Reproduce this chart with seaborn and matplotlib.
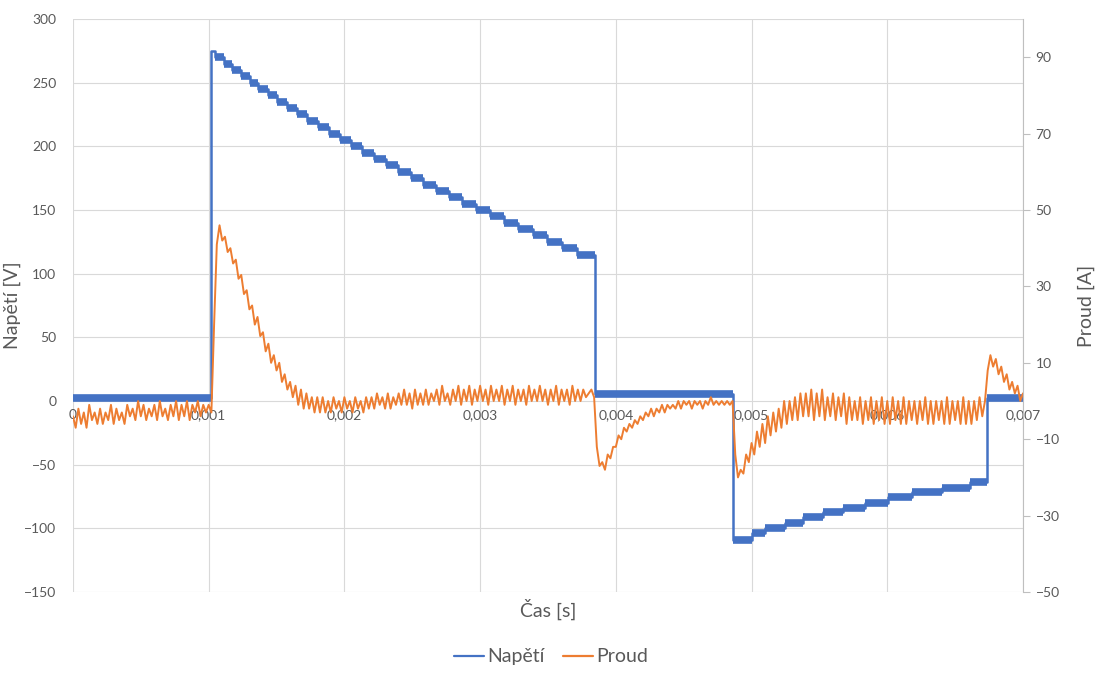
"""Napětí a proud v čase – dvouosý graf."""

import matplotlib

matplotlib.use("Agg")
import matplotlib.pyplot as plt
import numpy as np
import pandas as pd
import seaborn as sns

# voltage trace: level start times [s] and levels [V] (held until next time)
VOLT_T = [
    0, 0.00102, 0.00105, 0.00111, 0.001172, 0.001235, 0.001301, 0.001367,
    0.001436, 0.001507, 0.001579, 0.001653, 0.001728, 0.001806, 0.001885,
    0.001966, 0.002048, 0.002133, 0.002219, 0.002307, 0.002396, 0.002488,
    0.002581, 0.002676, 0.002772, 0.00287, 0.00297, 0.003072, 0.003175,
    0.00328, 0.003387, 0.003495, 0.003605, 0.003717, 0.003845, 0.004866,
    0.005001, 0.005099, 0.005246, 0.005381, 0.005529, 0.005676, 0.005836,
    0.006008, 0.00618, 0.006401, 0.00661, 0.006733, 0.007,
]
VOLT_V = [
    2, 275, 270, 265, 260, 255, 250, 245,
    240, 235, 230, 225, 220, 215, 210,
    205, 200, 195, 190, 185, 180, 175,
    170, 165, 160, 155, 150, 145, 140,
    135, 130, 125, 120, 115, 5.5, -109,
    -104, -99.5, -95.5, -91, -87.5, -84, -80,
    -75.5, -71.5, -68, -63.5, 2, 2,
]

# current trace, sampled every CURRENT_DT seconds [A]
CURRENT_DT = 0.00002
CURRENT_A = [
    -4, -7, -2, -6, -3, -7, -1, -5, -3, -6,
    -2, -6, -3, -5, -1, -6, -2, -5, -3, -6,
    -1, -4, -2, -5, 0, -4, -1, -5, -2, -4,
    -1, -5, 0, -4, -2, -5, -1, -4, 0, -5,
    -1, -4, 0, -5, -1, -3, 0, -4, -1, -3,
    -1, -3, 20, 41, 46, 42, 43, 39, 40, 36,
    37, 32, 33, 28, 29, 24, 25, 20, 22, 17,
    18, 13, 15, 10, 12, 8, 10, 5, 7, 3,
    5, 1, 4, -1, 3, -2, 2, -2, 1, -3,
    1, -3, 1, -3, 0, -3, 1, -2, 0, -3,
    1, -2, 0, -3, 1, -2, 0, -3, 1, -2,
    1, -2, 2, -1, 1, -2, 2, -2, 1, -1,
    2, -1, 3, -1, 2, -2, 3, -1, 2, -1,
    3, -1, 2, 0, 3, -1, 4, 0, 2, -1,
    3, 0, 4, -1, 3, 0, 4, -1, 3, 0,
    4, 0, 3, -1, 4, 0, 3, 0, 4, -1,
    3, 0, 4, -1, 3, 0, 3, -1, 4, 0,
    3, 0, 4, 0, 3, -1, 3, 0, 4, -1,
    3, 0, 3, -1, 4, 0, 3, 0, 3, 1,
    2, 3, 1, -12, -17, -16, -18, -14, -15, -12,
    -12, -9, -10, -7, -8, -6, -7, -5, -6, -4,
    -5, -3, -4, -2, -4, -2, -3, -1, -3, -1,
    -2, -1, -2, 0, -2, 0, -1, 0, -2, 0,
    -1, 0, -2, 0, -1, 1, -1, 0, -1, 0,
    -1, 0, -1, 0, -14, -20, -18, -19, -14, -16,
    -11, -14, -8, -12, -6, -11, -4, -9, -3, -8,
    -2, -7, 0, -6, 0, -5, 1, -5, 2, -4,
    2, -4, 3, -5, 2, -4, 3, -5, 1, -4,
    2, -5, 1, -4, 2, -6, 1, -5, 0, -5,
    1, -6, 0, -5, 1, -6, 0, -5, 1, -6,
    0, -6, 1, -5, 0, -6, 1, -6, 0, -5,
    0, -6, 0, -5, 1, -6, 0, -6, 0, -5,
    0, -6, 1, -6, 0, -5, 0, -6, 1, -6,
    0, -6, 0, -5, 1, -4, 0, 8, 12, 9,
    11, 7, 9, 5, 7, 3, 5, 2, 4, 0,
    2,
]

X_TICKS = [0, 0.001, 0.002, 0.003, 0.004, 0.005, 0.006, 0.007]
X_TICK_LABELS = ["0", "0,001", "0,002", "0,003", "0,004", "0,005", "0,006", "0,007"]
V_TICKS = [-150, -100, -50, 0, 50, 100, 150, 200, 250, 300]
A_TICKS = [-50, -30, -10, 10, 30, 50, 70, 90]

BLUE = "#4472C4"
ORANGE = "#ED7D31"
GRID = "#D9D9D9"
TEXT = "#595959"

sns.set_theme(style="white")
plt.rcParams["font.family"] = ["Lato", "DejaVu Sans"]

volt = pd.DataFrame({"t": VOLT_T, "v": VOLT_V})
cur = pd.DataFrame({"t": np.arange(len(CURRENT_A)) * CURRENT_DT, "a": CURRENT_A})

fig = plt.figure(figsize=(11.02, 6.78), dpi=100)
ax = fig.add_axes([0.0662, 0.1268, 0.8621, 0.8452])
ax2 = ax.twinx()

sns.lineplot(data=volt, x="t", y="v", ax=ax, color=BLUE, linewidth=1.8,
             drawstyle="steps-post", estimator=None, sort=False, legend=False)
# quantisation ripple makes the plateaus look like a thick band
for t0, t1, v in zip(VOLT_T[:-1], VOLT_T[1:], VOLT_V[:-1]):
    if t1 - t0 > 0.00004:
        ax.hlines(v, t0, t1, colors=BLUE, linewidth=5.5)

sns.lineplot(data=cur, x="t", y="a", ax=ax2, color=ORANGE, linewidth=1.4,
             estimator=None, sort=False, legend=False)

ax.set_xlim(0, 0.007)
ax.set_ylim(-150, 300)
ax2.set_ylim(-50, 100)
ax.set_xticks(X_TICKS)
ax.set_xticklabels(X_TICK_LABELS)
ax.set_yticks(V_TICKS)
ax2.set_yticks(A_TICKS)

ax.grid(True, color=GRID, linewidth=0.8)
ax2.grid(False)
ax.spines["bottom"].set_position(("data", 0))
for side in ["top", "bottom", "left", "right"]:
    ax.spines[side].set_visible(False)
    ax2.spines[side].set_visible(False)
ax2.spines["right"].set_visible(True)
ax2.spines["right"].set_color("#BFBFBF")
ax2.spines["right"].set_linewidth(0.8)

ax.tick_params(axis="x", length=0, pad=6, labelsize=10, labelcolor=TEXT)
ax.tick_params(axis="y", length=0, pad=12, labelsize=10, labelcolor=TEXT)
ax2.tick_params(axis="y", length=5, width=0.8, color="#BFBFBF", pad=4,
                labelsize=10, labelcolor=TEXT)

ax.set_xlabel("")
ax.set_ylabel("Napětí [V]", fontsize=14, color=TEXT)
ax.yaxis.set_label_coords(-0.055, 0.5)
ax2.set_ylabel("Proud [A]", fontsize=14, color=TEXT)
ax2.yaxis.set_label_coords(1.058, 0.5)
ax.text(0.5, -0.031, "Čas [s]", transform=ax.transAxes, ha="center", va="center",
        fontsize=14, color=TEXT)

handles = [plt.Line2D([], [], color=BLUE, linewidth=1.6),
           plt.Line2D([], [], color=ORANGE, linewidth=1.6)]
leg = fig.legend(handles, ["Napětí", "Proud"], loc="center", bbox_to_anchor=(0.5, 0.031),
                 ncol=2, frameon=False, fontsize=14, handlelength=1.55,
                 handletextpad=0.2, columnspacing=0.9)
for txt in leg.get_texts():
    txt.set_color(TEXT)

fig.savefig("out.png", dpi=100)
